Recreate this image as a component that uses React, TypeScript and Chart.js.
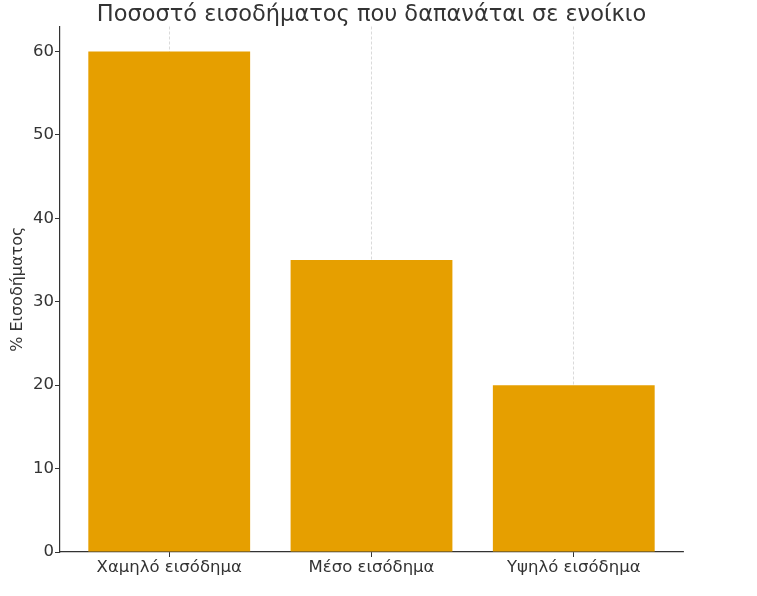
import React, { useEffect, useRef } from "react";
import { Chart, registerables } from "chart.js";

Chart.register(...registerables);

const categories: string[] = ["Χαμηλό εισόδημα", "Μέσο εισόδημα", "Υψηλό εισόδημα"];
const values: number[] = [60, 35, 20];
const yTicks: number[] = [0, 10, 20, 30, 40, 50, 60];
const titleText = "Ποσοστό εισοδήματος που δαπανάται σε ενοίκιο";
const yAxisTitle = "% Εισοδήματος";

const FONT = "'DejaVu Sans', sans-serif";
const TEXT = "#333333";

export default function App() {
  const ref = useRef<HTMLCanvasElement | null>(null);

  useEffect(() => {
    document.body.style.margin = "0";
    const canvas = ref.current;
    if (!canvas) return;
    const chart = new Chart(canvas, {
      type: "bar",
      data: {
        datasets: [
          {
            data: values.map((v, i) => ({ x: i, y: v })),
            backgroundColor: "#E69F00",
            borderWidth: 0,
            barPercentage: 0.8,
            categoryPercentage: 1.0,
          },
        ],
      },
      options: {
        animation: false,
        responsive: false,
        devicePixelRatio: 1,
        layout: { padding: { left: 0, right: 74, top: 4, bottom: 0 } },
        plugins: {
          legend: { display: false },
          tooltip: { enabled: false },
          title: {
            display: true,
            fullSize: false,
            text: titleText,
            color: TEXT,
            font: { family: FONT, size: 22.5, weight: "normal", lineHeight: 1.0 },
            padding: { top: 0, bottom: 0 },
          },
        },
        scales: {
          x: {
            type: "linear",
            min: -0.54,
            max: 2.54,
            offset: false,
            z: 1,
            afterBuildTicks: (scale: any) => {
              scale.ticks = categories.map((_, i) => ({ value: i }));
            },
            afterFit: (scale: any) => {
              scale.height = 44;
            },
            grid: {
              display: true,
              offset: false,
              drawOnChartArea: true,
              color: "rgba(176,176,176,0.6)",
              lineWidth: 0.8,
              tickColor: TEXT,
              tickLength: 5,
              tickWidth: 1,
              tickBorderDash: [],
            },
            border: { display: true, color: TEXT, width: 1.2, dash: [3, 2] },
            ticks: {
              color: TEXT,
              font: { family: FONT, size: 16.5 },
              padding: 1,
              maxRotation: 0,
              autoSkip: false,
              callback: (v: any) => categories[Math.round(Number(v))] ?? "",
            },
          },
          y: {
            type: "linear",
            min: 0,
            max: 63,
            afterBuildTicks: (scale: any) => {
              scale.ticks = yTicks.map((v) => ({ value: v }));
            },
            afterFit: (scale: any) => {
              scale.width = 60;
            },
            grid: {
              display: true,
              drawOnChartArea: false,
              color: TEXT,
              tickColor: TEXT,
              tickLength: 5,
              tickWidth: 1,
            },
            border: { display: true, color: TEXT, width: 1.2 },
            ticks: {
              color: TEXT,
              font: { family: FONT, size: 16.5 },
              padding: 1,
              includeBounds: false,
            },
            title: {
              display: true,
              text: yAxisTitle,
              color: TEXT,
              font: { family: FONT, size: 16 },
              padding: { top: 8, bottom: 0 },
            },
          },
        },
      } as any,
    });
    return () => chart.destroy();
  }, []);

  return (
    <div style={{ width: 757, height: 596 }}>
      <canvas ref={ref} width={757} height={596} style={{ display: "block" }} />
    </div>
  );
}
